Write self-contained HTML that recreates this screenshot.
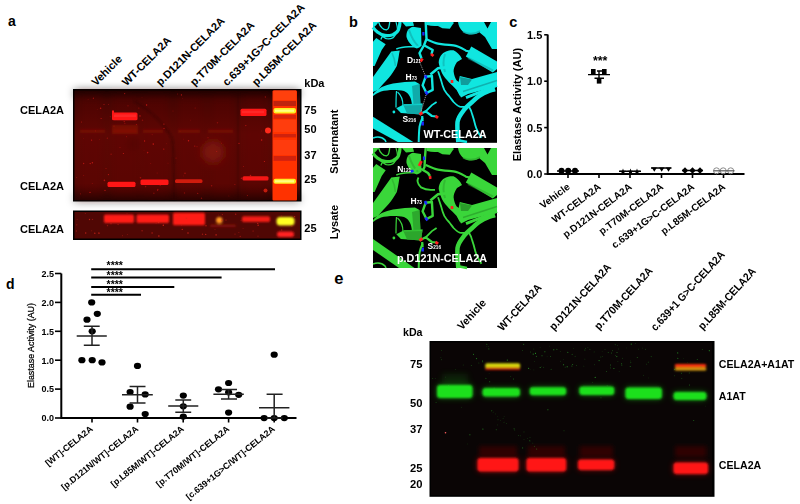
<!DOCTYPE html>
<html><head><meta charset="utf-8"><style>
html,body{margin:0;padding:0;background:#fff;width:800px;height:504px;overflow:hidden}
svg{display:block}
text{font-family:"Liberation Sans", Arial, Helvetica, sans-serif}
</style></head><body>
<svg width="800" height="504" viewBox="0 0 800 504">
<defs>
<linearGradient id="gA" x1="0" y1="0" x2="0" y2="1">
<stop offset="0" stop-color="#200200"/><stop offset="0.08" stop-color="#3e0502"/><stop offset="0.4" stop-color="#5a0804"/><stop offset="0.85" stop-color="#540703"/><stop offset="1" stop-color="#280301"/>
</linearGradient>
<linearGradient id="lad" x1="0" y1="0" x2="0" y2="1">
<stop offset="0" stop-color="#ff3010"/><stop offset="0.1" stop-color="#c01a08"/><stop offset="0.2" stop-color="#ff5010"/><stop offset="0.45" stop-color="#ff3010"/><stop offset="0.7" stop-color="#ff3a10"/><stop offset="1" stop-color="#ff2010"/>
</linearGradient>
<filter id="b06" x="-20%" y="-50%" width="140%" height="200%"><feGaussianBlur stdDeviation="0.6"/></filter>
<filter id="b04" x="-20%" y="-50%" width="140%" height="200%"><feGaussianBlur stdDeviation="0.4"/></filter>
<filter id="b4" x="-30%" y="-30%" width="160%" height="160%"><feGaussianBlur stdDeviation="4"/></filter>
<filter id="b3" x="-30%" y="-80%" width="160%" height="260%"><feGaussianBlur stdDeviation="3"/></filter>
<filter id="b1" x="-20%" y="-50%" width="140%" height="200%"><feGaussianBlur stdDeviation="1"/></filter>
<filter id="b07" x="-20%" y="-50%" width="140%" height="200%"><feGaussianBlur stdDeviation="0.7"/></filter>
<filter id="b2" x="-20%" y="-50%" width="140%" height="200%"><feGaussianBlur stdDeviation="2"/></filter>
</defs>
<text x="8" y="26" font-size="14" font-weight="bold" text-anchor="start" fill="#000" >a</text>
<text x="349" y="26.5" font-size="14.5" font-weight="bold" text-anchor="start" fill="#000" >b</text>
<text x="509.2" y="26.5" font-size="14.5" font-weight="bold" text-anchor="start" fill="#000" >c</text>
<text x="6" y="289" font-size="14" font-weight="bold" text-anchor="start" fill="#000" >d</text>
<text x="334.3" y="284.4" font-size="16.5" font-weight="bold" text-anchor="start" fill="#000" >e</text>
<text transform="translate(96.0 86.5) rotate(-45)" font-size="11" font-weight="bold" text-anchor="start" fill="#000" >Vehicle</text>
<text transform="translate(126.5 86.5) rotate(-45)" font-size="11" font-weight="bold" text-anchor="start" fill="#000" >WT-CELA2A</text>
<text transform="translate(160.5 86.5) rotate(-45)" font-size="11" font-weight="bold" text-anchor="start" fill="#000" >p.D121N-CELA2A</text>
<text transform="translate(194.5 86.5) rotate(-45)" font-size="11" font-weight="bold" text-anchor="start" fill="#000" >p.T70M-CELA2A</text>
<text transform="translate(227.0 86.5) rotate(-45)" font-size="11" font-weight="bold" text-anchor="start" fill="#000" >c.639+1G&gt;C-CELA2A</text>
<text transform="translate(256.5 86.5) rotate(-45)" font-size="11" font-weight="bold" text-anchor="start" fill="#000" >p.L85M-CELA2A</text>
<g id="gelA">
<rect x="73" y="89" width="228.5" height="112.5" fill="#000"/>
<rect x="74.5" y="90.5" width="225.5" height="109.5" fill="url(#gA)"/>
<g filter="url(#b4)">
<rect x="78" y="97" width="26" height="98" fill="#680a05" opacity="0.35"/>
<rect x="110" y="97" width="29" height="98" fill="#680a05" opacity="0.35"/>
<rect x="141" y="97" width="29" height="98" fill="#680a05" opacity="0.35"/>
<rect x="176" y="97" width="29" height="98" fill="#680a05" opacity="0.35"/>
<rect x="209" y="97" width="27" height="98" fill="#680a05" opacity="0.35"/>
<rect x="241" y="97" width="27" height="98" fill="#680a05" opacity="0.35"/>
<ellipse cx="213" cy="152" rx="11" ry="11" fill="#8a1a10" opacity="0.7"/>
<rect x="74.5" y="90.5" width="225" height="5" fill="#1a0200" opacity="0.8"/>
<rect x="74.5" y="196" width="225" height="5" fill="#1a0200" opacity="0.6"/>
<circle cx="133" cy="144" r="3" fill="#2a0402" opacity="0.8"/>
</g>
<g filter="url(#b1)">
<path d="M134 101 C150 110 165 125 172 138 C174 150 174 175 174 200" fill="none" stroke="#2a0402" stroke-width="2" opacity="0.45"/>
<path d="M238 92 V200" fill="none" stroke="#2a0402" stroke-width="2" opacity="0.35"/>
<rect x="80" y="129.5" width="25" height="3.2" fill="#861008" opacity="0.6"/>
<rect x="113" y="129.5" width="24" height="3.2" fill="#861008" opacity="0.6"/>
<rect x="143" y="129.5" width="20" height="3.2" fill="#861008" opacity="0.6"/>
<rect x="178" y="129.5" width="22" height="3.2" fill="#861008" opacity="0.6"/>
<rect x="208" y="129.5" width="25" height="3.2" fill="#861008" opacity="0.6"/>
<rect x="112" y="125" width="26" height="9" fill="#901208" opacity="0.5"/>
</g>
<g filter="url(#b06)">
<rect x="112" y="112.6" width="25.5" height="7.6" rx="1.5" fill="#ff1818"/>
<rect x="107.5" y="181.8" width="28" height="5.2" rx="1.5" fill="#ff1616"/>
<rect x="140.5" y="179.6" width="28" height="5.4" rx="1.5" fill="#ff1616"/>
<rect x="175" y="179.2" width="27.5" height="3.9" rx="1.5" fill="#d01a10"/>
<rect x="240.5" y="108.8" width="26" height="7.2" rx="1.5" fill="#ff1818"/>
<rect x="242.5" y="176.2" width="26" height="4.4" rx="1.5" fill="#f41814"/>
<rect x="112" y="110.5" width="2" height="5" fill="#ff1818"/>
<circle cx="268" cy="130.5" r="3" fill="#ff2a1a"/>
<circle cx="265.5" cy="190.5" r="2" fill="#c01a10"/>
</g>
<g filter="url(#b07)">
<rect x="272.5" y="90.5" width="24.5" height="110" rx="1" fill="#ff3006"/>
<rect x="273.5" y="101" width="22.5" height="5" fill="#c02008"/>
<rect x="273.5" y="115" width="22.5" height="3.700000000000003" fill="#d82408"/>
<rect x="273.5" y="134" width="22.5" height="3.4000000000000057" fill="#d02208"/>
<rect x="273.5" y="156" width="22.5" height="4.800000000000011" fill="#d02208"/>
<rect x="273.5" y="90.5" width="22.5" height="9.5" fill="#ff4010"/>
<rect x="273.5" y="120" width="22.5" height="12" fill="#ff3c0c"/>
<rect x="273.5" y="140" width="22.5" height="15" fill="#ff3a0c"/>
<rect x="273.5" y="108" width="22.5" height="5.5" rx="2" fill="#ffee20"/>
<rect x="273.5" y="178.8" width="22.5" height="5" rx="2" fill="#ffee20"/>
</g>
<g filter="url(#b04)">
<rect x="275" y="109.6" width="19" height="2.2" fill="#ffff80"/>
<rect x="275" y="180.2" width="19" height="2.2" fill="#ffff80"/>
<rect x="114" y="114.5" width="22" height="2.5" fill="#ff3a3a" opacity="0.5"/>
<rect x="242" y="110.8" width="22" height="2.3" fill="#ff3a3a" opacity="0.5"/>
</g>
<circle cx="138.8" cy="108.1" r="0.66" fill="#e8201a" opacity="0.33"/>
<circle cx="180.0" cy="131.1" r="0.42" fill="#e8201a" opacity="0.53"/>
<circle cx="83.3" cy="138.4" r="0.43" fill="#e8201a" opacity="0.34"/>
<circle cx="158.4" cy="180.5" r="0.45" fill="#e8201a" opacity="0.40"/>
<circle cx="197.7" cy="193.4" r="0.63" fill="#e8201a" opacity="0.48"/>
<circle cx="265.4" cy="97.0" r="0.74" fill="#e8201a" opacity="0.43"/>
<circle cx="104.0" cy="104.6" r="0.52" fill="#e8201a" opacity="0.67"/>
<circle cx="111.1" cy="154.2" r="0.66" fill="#e8201a" opacity="0.47"/>
<circle cx="182.3" cy="98.7" r="0.42" fill="#e8201a" opacity="0.39"/>
<circle cx="208.0" cy="137.8" r="0.53" fill="#e8201a" opacity="0.56"/>
<circle cx="163.9" cy="124.1" r="0.72" fill="#e8201a" opacity="0.61"/>
<circle cx="123.4" cy="153.5" r="0.61" fill="#e8201a" opacity="0.69"/>
<circle cx="217.5" cy="122.8" r="0.79" fill="#e8201a" opacity="0.35"/>
<circle cx="157.1" cy="173.0" r="0.46" fill="#e8201a" opacity="0.52"/>
<circle cx="83.6" cy="163.5" r="0.71" fill="#e8201a" opacity="0.56"/>
<circle cx="245.8" cy="125.6" r="0.68" fill="#e8201a" opacity="0.57"/>
<circle cx="188.5" cy="140.8" r="0.74" fill="#e8201a" opacity="0.73"/>
<circle cx="168.0" cy="163.1" r="0.42" fill="#e8201a" opacity="0.62"/>
<circle cx="201.5" cy="198.3" r="0.73" fill="#e8201a" opacity="0.43"/>
<circle cx="150.8" cy="163.5" r="0.41" fill="#e8201a" opacity="0.51"/>
<circle cx="108.6" cy="104.5" r="0.42" fill="#e8201a" opacity="0.65"/>
<circle cx="101.1" cy="118.5" r="0.56" fill="#e8201a" opacity="0.69"/>
<circle cx="91.6" cy="140.1" r="0.62" fill="#e8201a" opacity="0.70"/>
<circle cx="234.9" cy="184.4" r="0.51" fill="#e8201a" opacity="0.49"/>
<circle cx="145.6" cy="186.6" r="0.78" fill="#e8201a" opacity="0.37"/>
<circle cx="110.2" cy="116.8" r="0.49" fill="#e8201a" opacity="0.52"/>
<circle cx="190.3" cy="120.1" r="0.40" fill="#e8201a" opacity="0.49"/>
<circle cx="147.6" cy="152.6" r="0.78" fill="#e8201a" opacity="0.61"/>
<circle cx="176.0" cy="158.1" r="0.67" fill="#e8201a" opacity="0.32"/>
<circle cx="250.5" cy="175.5" r="0.75" fill="#e8201a" opacity="0.66"/>
<circle cx="152.1" cy="134.7" r="0.44" fill="#e8201a" opacity="0.59"/>
<circle cx="88.1" cy="99.2" r="0.48" fill="#e8201a" opacity="0.37"/>
<circle cx="142.0" cy="97.6" r="0.40" fill="#e8201a" opacity="0.37"/>
<circle cx="95.7" cy="130.9" r="0.41" fill="#e8201a" opacity="0.69"/>
<circle cx="195.1" cy="107.9" r="0.50" fill="#e8201a" opacity="0.46"/>
<circle cx="146.6" cy="105.1" r="0.74" fill="#e8201a" opacity="0.75"/>
<circle cx="166.4" cy="143.8" r="0.43" fill="#e8201a" opacity="0.35"/>
<circle cx="142.5" cy="120.3" r="0.73" fill="#e8201a" opacity="0.37"/>
<circle cx="80.5" cy="193.8" r="0.61" fill="#e8201a" opacity="0.37"/>
<circle cx="181.4" cy="94.9" r="0.61" fill="#e8201a" opacity="0.74"/>
<circle cx="243.5" cy="166.5" r="0.50" fill="#e8201a" opacity="0.47"/>
<circle cx="108.4" cy="174.6" r="0.61" fill="#e8201a" opacity="0.65"/>
<circle cx="140.0" cy="115.9" r="0.72" fill="#e8201a" opacity="0.74"/>
<circle cx="241.4" cy="178.3" r="0.73" fill="#e8201a" opacity="0.63"/>
<circle cx="120.0" cy="147.4" r="0.54" fill="#e8201a" opacity="0.31"/>
<circle cx="81.4" cy="121.9" r="0.50" fill="#e8201a" opacity="0.61"/>
<circle cx="261.6" cy="139.9" r="0.77" fill="#e8201a" opacity="0.74"/>
<circle cx="261.3" cy="131.0" r="0.49" fill="#e8201a" opacity="0.40"/>
<circle cx="114.2" cy="113.9" r="0.65" fill="#e8201a" opacity="0.71"/>
<circle cx="239.0" cy="143.3" r="0.66" fill="#e8201a" opacity="0.66"/>
<circle cx="92.4" cy="162.7" r="0.76" fill="#e8201a" opacity="0.65"/>
<circle cx="221.5" cy="143.1" r="0.47" fill="#e8201a" opacity="0.66"/>
<circle cx="140.5" cy="177.7" r="0.79" fill="#e8201a" opacity="0.48"/>
<circle cx="153.9" cy="193.3" r="0.69" fill="#e8201a" opacity="0.38"/>
<circle cx="100.6" cy="108.2" r="0.76" fill="#e8201a" opacity="0.66"/>
<circle cx="104.4" cy="180.4" r="0.79" fill="#e8201a" opacity="0.60"/>
<circle cx="144.0" cy="150.7" r="0.45" fill="#e8201a" opacity="0.31"/>
<circle cx="264.4" cy="161.5" r="0.61" fill="#e8201a" opacity="0.72"/>
<circle cx="160.2" cy="185.3" r="0.73" fill="#e8201a" opacity="0.39"/>
<circle cx="124.9" cy="123.3" r="0.50" fill="#e8201a" opacity="0.56"/>
<circle cx="126.3" cy="136.8" r="0.45" fill="#e8201a" opacity="0.71"/>
<circle cx="144.6" cy="141.0" r="0.63" fill="#e8201a" opacity="0.71"/>
<circle cx="157.6" cy="190.2" r="0.60" fill="#e8201a" opacity="0.54"/>
<circle cx="177.6" cy="94.0" r="0.58" fill="#e8201a" opacity="0.38"/>
<circle cx="76.8" cy="177.5" r="0.47" fill="#e8201a" opacity="0.51"/>
<circle cx="216.7" cy="151.5" r="0.53" fill="#e8201a" opacity="0.53"/>
<circle cx="183.8" cy="175.9" r="0.44" fill="#e8201a" opacity="0.55"/>
<circle cx="124.2" cy="121.6" r="0.71" fill="#e8201a" opacity="0.53"/>
<circle cx="185.0" cy="173.3" r="0.76" fill="#e8201a" opacity="0.50"/>
<circle cx="194.8" cy="146.1" r="0.60" fill="#e8201a" opacity="0.61"/>
<circle cx="163.8" cy="149.1" r="0.59" fill="#e8201a" opacity="0.72"/>
<circle cx="211.6" cy="185.8" r="0.78" fill="#e8201a" opacity="0.42"/>
<circle cx="184.5" cy="192.9" r="0.74" fill="#e8201a" opacity="0.36"/>
<circle cx="99.6" cy="139.3" r="0.43" fill="#e8201a" opacity="0.41"/>
<circle cx="90.2" cy="163.6" r="0.71" fill="#e8201a" opacity="0.70"/>
<circle cx="106.0" cy="168.6" r="0.66" fill="#e8201a" opacity="0.36"/>
<circle cx="247.3" cy="195.5" r="0.49" fill="#e8201a" opacity="0.73"/>
<circle cx="153.3" cy="144.1" r="0.80" fill="#e8201a" opacity="0.67"/>
<circle cx="107.3" cy="138.2" r="0.61" fill="#e8201a" opacity="0.45"/>
<circle cx="114.0" cy="126.1" r="0.69" fill="#e8201a" opacity="0.31"/>
<circle cx="183.5" cy="139.1" r="0.41" fill="#e8201a" opacity="0.45"/>
<circle cx="197.0" cy="146.8" r="0.43" fill="#e8201a" opacity="0.74"/>
<circle cx="228.9" cy="196.0" r="0.44" fill="#e8201a" opacity="0.42"/>
<circle cx="83.7" cy="175.4" r="0.51" fill="#e8201a" opacity="0.36"/>
<circle cx="157.9" cy="189.5" r="0.73" fill="#e8201a" opacity="0.42"/>
<circle cx="105.0" cy="190.4" r="0.63" fill="#e8201a" opacity="0.62"/>
<circle cx="93.4" cy="98.2" r="0.68" fill="#e8201a" opacity="0.49"/>
<circle cx="90.0" cy="192.4" r="0.65" fill="#e8201a" opacity="0.66"/>
<circle cx="92.2" cy="183.6" r="0.43" fill="#e8201a" opacity="0.69"/>
<circle cx="164.0" cy="128.3" r="0.62" fill="#e8201a" opacity="0.72"/>
<circle cx="128.0" cy="105.8" r="0.61" fill="#e8201a" opacity="0.41"/>
<circle cx="97.2" cy="109.3" r="0.42" fill="#e8201a" opacity="0.39"/>
<circle cx="136.5" cy="124.6" r="0.70" fill="#e8201a" opacity="0.43"/>
<circle cx="173.0" cy="111.0" r="0.54" fill="#e8201a" opacity="0.31"/>
<circle cx="124.6" cy="93.6" r="0.69" fill="#e8201a" opacity="0.55"/>
</g>
<rect x="73" y="210.5" width="228.5" height="29.5" fill="#000"/>
<rect x="74.5" y="212" width="225.5" height="26.5" fill="#500704"/>
<g filter="url(#b1)">
<rect x="104" y="214.6" width="30" height="8.4" rx="1.5" fill="#ff1a14"/>
<rect x="136.5" y="214.6" width="32.5" height="8.4" rx="1.5" fill="#ff1a14"/>
<rect x="173" y="212.8" width="32" height="12.5" rx="1.5" fill="#ff1a14"/>
<rect x="242" y="216.2" width="28" height="5.8" rx="1.5" fill="#f41a14"/>
<rect x="210" y="224.5" width="26" height="2.5" rx="1.5" fill="#801008"/>
<circle cx="219.3" cy="220.2" r="3.2" fill="#ff9a20"/>
<rect x="276.5" y="217" width="18" height="8.5" rx="3.5" fill="#ffff20"/>
<rect x="277" y="231.5" width="17" height="5.5" rx="2.5" fill="#ff2020"/>
</g>
<circle cx="118.1" cy="224.4" r="0.77" fill="#e0281a" opacity="0.36"/>
<circle cx="257.8" cy="223.4" r="0.60" fill="#e0281a" opacity="0.80"/>
<circle cx="163.3" cy="225.2" r="0.68" fill="#e0281a" opacity="0.89"/>
<circle cx="152.1" cy="233.0" r="0.68" fill="#e0281a" opacity="0.68"/>
<circle cx="165.8" cy="221.3" r="0.42" fill="#e0281a" opacity="0.38"/>
<circle cx="91.7" cy="230.8" r="0.50" fill="#e0281a" opacity="0.40"/>
<circle cx="94.8" cy="233.2" r="0.75" fill="#e0281a" opacity="0.70"/>
<circle cx="138.6" cy="218.8" r="0.52" fill="#e0281a" opacity="0.58"/>
<circle cx="111.0" cy="223.7" r="0.51" fill="#e0281a" opacity="0.88"/>
<circle cx="291.9" cy="226.1" r="0.50" fill="#e0281a" opacity="0.88"/>
<circle cx="144.7" cy="221.6" r="0.40" fill="#e0281a" opacity="0.53"/>
<circle cx="181.4" cy="225.1" r="0.48" fill="#e0281a" opacity="0.60"/>
<circle cx="77.1" cy="219.3" r="0.44" fill="#e0281a" opacity="0.54"/>
<circle cx="85.3" cy="213.5" r="0.52" fill="#e0281a" opacity="0.44"/>
<circle cx="206.0" cy="225.7" r="0.70" fill="#e0281a" opacity="0.69"/>
<circle cx="235.0" cy="234.1" r="0.56" fill="#e0281a" opacity="0.50"/>
<circle cx="294.6" cy="216.6" r="0.69" fill="#e0281a" opacity="0.69"/>
<circle cx="85.7" cy="233.0" r="0.76" fill="#e0281a" opacity="0.68"/>
<circle cx="238.9" cy="232.5" r="0.46" fill="#e0281a" opacity="0.61"/>
<circle cx="188.0" cy="233.0" r="0.72" fill="#e0281a" opacity="0.80"/>
<circle cx="205.7" cy="234.4" r="0.67" fill="#e0281a" opacity="0.72"/>
<circle cx="127.0" cy="213.7" r="0.45" fill="#e0281a" opacity="0.52"/>
<circle cx="99.3" cy="233.1" r="0.62" fill="#e0281a" opacity="0.68"/>
<circle cx="215.0" cy="229.3" r="0.60" fill="#e0281a" opacity="0.30"/>
<circle cx="253.1" cy="231.0" r="0.60" fill="#e0281a" opacity="0.62"/>
<circle cx="222.4" cy="214.6" r="0.69" fill="#e0281a" opacity="0.45"/>
<circle cx="92.5" cy="219.4" r="0.69" fill="#e0281a" opacity="0.42"/>
<circle cx="240.2" cy="236.4" r="0.60" fill="#e0281a" opacity="0.53"/>
<circle cx="182.3" cy="229.4" r="0.71" fill="#e0281a" opacity="0.67"/>
<circle cx="218.7" cy="214.9" r="0.46" fill="#e0281a" opacity="0.45"/>
<circle cx="241.0" cy="220.3" r="0.63" fill="#e0281a" opacity="0.31"/>
<circle cx="89.5" cy="219.5" r="0.67" fill="#e0281a" opacity="0.72"/>
<circle cx="226.0" cy="220.0" r="0.61" fill="#e0281a" opacity="0.58"/>
<circle cx="179.5" cy="215.8" r="0.76" fill="#e0281a" opacity="0.42"/>
<circle cx="293.1" cy="235.5" r="0.41" fill="#e0281a" opacity="0.58"/>
<circle cx="258.0" cy="236.2" r="0.58" fill="#e0281a" opacity="0.46"/>
<circle cx="122.6" cy="235.7" r="0.48" fill="#e0281a" opacity="0.65"/>
<circle cx="107.5" cy="225.6" r="0.78" fill="#e0281a" opacity="0.38"/>
<circle cx="258.1" cy="225.2" r="0.75" fill="#e0281a" opacity="0.72"/>
<circle cx="127.4" cy="234.5" r="0.59" fill="#e0281a" opacity="0.31"/>
<circle cx="76.8" cy="224.8" r="0.58" fill="#e0281a" opacity="0.48"/>
<circle cx="107.2" cy="221.3" r="0.53" fill="#e0281a" opacity="0.80"/>
<circle cx="76.4" cy="231.0" r="0.74" fill="#e0281a" opacity="0.37"/>
<circle cx="281.7" cy="230.1" r="0.76" fill="#e0281a" opacity="0.47"/>
<circle cx="158.6" cy="222.4" r="0.80" fill="#e0281a" opacity="0.65"/>
<circle cx="156.1" cy="223.3" r="0.51" fill="#e0281a" opacity="0.33"/>
<circle cx="98.6" cy="233.0" r="0.51" fill="#e0281a" opacity="0.86"/>
<circle cx="131.4" cy="219.4" r="0.60" fill="#e0281a" opacity="0.41"/>
<circle cx="158.9" cy="235.9" r="0.75" fill="#e0281a" opacity="0.79"/>
<circle cx="216.1" cy="234.9" r="0.78" fill="#e0281a" opacity="0.63"/>
<circle cx="235.7" cy="214.2" r="0.69" fill="#e0281a" opacity="0.57"/>
<circle cx="243.1" cy="228.5" r="0.51" fill="#e0281a" opacity="0.33"/>
<circle cx="281.7" cy="216.1" r="0.59" fill="#e0281a" opacity="0.51"/>
<circle cx="142.1" cy="230.7" r="0.79" fill="#e0281a" opacity="0.46"/>
<circle cx="221.6" cy="220.2" r="0.62" fill="#e0281a" opacity="0.54"/>
<circle cx="113.1" cy="216.9" r="0.48" fill="#e0281a" opacity="0.84"/>
<circle cx="186.4" cy="218.3" r="0.76" fill="#e0281a" opacity="0.90"/>
<circle cx="175.9" cy="216.4" r="0.48" fill="#e0281a" opacity="0.35"/>
<circle cx="151.9" cy="215.2" r="0.50" fill="#e0281a" opacity="0.46"/>
<circle cx="202.5" cy="234.3" r="0.70" fill="#e0281a" opacity="0.55"/>
<text x="20" y="114.3" font-size="11" font-weight="bold" text-anchor="start" fill="#000" >CELA2A</text>
<text x="20" y="190.2" font-size="11" font-weight="bold" text-anchor="start" fill="#000" >CELA2A</text>
<text x="20" y="233.3" font-size="11" font-weight="bold" text-anchor="start" fill="#000" >CELA2A</text>
<text x="304.3" y="87" font-size="11" font-weight="bold" text-anchor="start" fill="#000" >kDa</text>
<text x="304.3" y="113.5" font-size="11" font-weight="bold" text-anchor="start" fill="#000" >75</text>
<text x="304.3" y="133.3" font-size="11" font-weight="bold" text-anchor="start" fill="#000" >50</text>
<text x="304.3" y="158.8" font-size="11" font-weight="bold" text-anchor="start" fill="#000" >37</text>
<text x="304.3" y="182.9" font-size="11" font-weight="bold" text-anchor="start" fill="#000" >25</text>
<text x="304.3" y="232" font-size="11" font-weight="bold" text-anchor="start" fill="#000" >25</text>
<text transform="translate(338 141.6) rotate(-90)" font-size="11" font-weight="bold" text-anchor="middle" fill="#000" >Supernatant</text>
<text transform="translate(338 222.1) rotate(-90)" font-size="11" font-weight="bold" text-anchor="middle" fill="#000" >Lysate</text>
<rect x="373" y="22" width="124" height="120.8" fill="#000"/>
<rect x="373" y="148" width="124" height="120" fill="#000"/>
<g id="protA" transform="translate(373 22)"><path d="M0 5.4 C1.5 7.5 3 9.2 4.8 10.3 C7 12 9.5 13.2 11.9 13.5 C14.5 13.8 17.5 13.5 19.8 12.7 C22.5 11.5 24.5 9.8 25.4 7.9 C26.5 5 26.9 2.5 27 0" fill="none" stroke="#10e6e0" stroke-width="3.3"/>
<path d="M5.6 0 C6.5 3 7.5 4.5 8.7 5.6 C10 7 12 7.9 13.5 7.9 C15 7.5 15.7 6 15.9 4.8 C16.3 3 16.6 1.5 16.7 0" fill="none" stroke="#10e6e0" stroke-width="1.3"/>
<path d="M23 0 C24 3 24.5 5 24.5 8" fill="none" stroke="#10e6e0" stroke-width="1.1"/>
<path d="M0 0 L5.5 0 C4 2.5 2.5 4 0 6 Z" fill="#10e6e0"/>
<path d="M0 19.8 L3.2 15.9 L12.7 22.2 L8.7 28 L1.6 43.9 L0 44 Z" fill="#10e6e0"/>
<path d="M7.9 17.5 C8.5 15.5 9 14.8 9.5 14.3 C11 15 12 16.3 13.5 16.7 C16 17 18 16.8 19.8 15.9 C21 15 22 13.5 23 11.9" fill="none" stroke="#10e6e0" stroke-width="1.3"/>
<path d="M18.3 29.6 L26.8 28.6 L26.2 31.2 C25.5 36 24.8 40 23.8 43.9 C21.5 48 19 52 15.9 55.8 C12 60 8 64.5 4.8 68 L0 70 L0 55 Z" fill="#10e6e0"/>
<path d="M19 31 C21 35 22 39 22.5 44" fill="none" stroke="#109c9c" stroke-width="1.6" opacity="0.5"/>
<path d="M33.5 15 C33 10 35 6 40 4.7 L48 6 L48.5 24 L44 26.4 C40 25.5 35.5 21 33.5 15 Z" fill="#10e6e0"/>
<path d="M29 0 L40 0 L41 3.7 L33 4.5 Z" fill="#10e6e0"/>
<path d="M36 8 C38 14 41 20 45 24" fill="none" stroke="#109c9c" stroke-width="2" opacity="0.5"/>
<path d="M23.3 27 C27 25.5 31 25 35.7 24.8 C40 24.6 43 24.6 46.5 24.8" fill="none" stroke="#10e6e0" stroke-width="1.6"/>
<path d="M52.7 0 L53.5 17 L51 23.3" fill="none" stroke="#10e6e0" stroke-width="2.4" stroke-linejoin="round"/>
<path d="M51 23.3 L59.7 28 L58.5 32" fill="none" stroke="#10e6e0" stroke-width="2.4" stroke-linejoin="round"/>
<path d="M51 23.3 L46.5 31 L48.5 36.5" fill="none" stroke="#10e6e0" stroke-width="2.4" stroke-linejoin="round"/>
<path d="M50.4 10 V13.5" stroke="#1a2aff" stroke-width="2.2"/>
<path d="M58 32 L60.5 34" stroke="#ff2020" stroke-width="2.8"/>
<path d="M49.5 36.5 L47.5 39.5" stroke="#ff2020" stroke-width="2.8"/>
<path d="M52.7 17 C57 19 61 21 65 21.7 C70 22.6 75 23 80.6 23.3 C86 24 90 27 93 28.7 C95 29.3 97 29.5 99.2 29.5" fill="none" stroke="#10e6e0" stroke-width="2.2"/>
<path d="M54 0 L68 0 L67 3.5 C62 4.5 58 4 54 3 Z" fill="#10e6e0"/>
<path d="M62 0 L80.5 0 L80.5 1.2 L76.8 6.8 L69.4 6.2 L62 2.5 Z" fill="#10e6e0"/>
<path d="M85 0 L107 0 L107.5 9 C104 13 98 13 94 12 C89 10 86 6 85 0 Z" fill="#10e6e0"/>
<path d="M95 0 L111 0 L114.5 6.5 L118 0 L124 0 L124 27 L119 27 L112 15 L106 10 L100 6 Z" fill="#10e6e0"/>
<path d="M90 10 C95 12 102 12 107 9" fill="none" stroke="#109c9c" stroke-width="1.5" opacity="0.6"/>
<path d="M65.7 40.6 C66 35 69 31 73 29.5 C76 28 79 28 80.5 28.3 C84 30 87 33 89 36.9 L84 40 C81.5 44 80.5 47 80.6 49.3 C81 53 82 56 83.7 58.6 L88.4 61.7 L86.8 74 C85 70 84 68 82.2 66.4 C79 63 76 61 74.4 58.6 C71 55 69 52 68.2 49.3 C67 46 66 43 65.7 40.6 Z" fill="#10e6e0"/>
<path d="M72 32 C70 38 70 44 72 50" fill="none" stroke="#109c9c" stroke-width="2" opacity="0.45"/>
<path d="M79 58 V61" stroke="#ff2020" stroke-width="2.6"/>
<path d="M57.4 52.4 L65 46.2 L72.9 45.4" fill="none" stroke="#10e6e0" stroke-width="2.6" stroke-linejoin="round"/>
<path d="M92.8 34.4 L98.3 24.6 L124 39.4 L124 47 L119.8 50.4 Z" fill="#10e6e0"/>
<path d="M95 36 L120 48.5" stroke="#109c9c" stroke-width="2" opacity="0.5"/>
<path d="M86.8 54 L99 57 L124 50 L124 64.5 L113.7 67 L95 72 L88 75.5 L84 68 Z" fill="#10e6e0"/>
<path d="M87 55 L99 57.5 L95 63 L88 63 Z" fill="#109c9c"/>
<path d="M90 69.5 L124 58.5" stroke="#109c9c" stroke-width="1.4" opacity="0.7"/>
<path d="M93 75.7 L124 63.3" stroke="#10e6e0" stroke-width="3"/>
<path d="M0 72 C5 66 12 63 20 61.5 C28 60 36 59.5 42 59.4 L46.5 62 L47.5 83 L39 83 C38.5 76 36 71 31 69 C24 67.5 15 67.5 8 69.5 C4 71 2 72.5 0 74 Z" fill="#10e6e0"/>
<path d="M39 64 L46.5 62 L47.5 83 L40.5 83 C40 76 39.5 69 39 64 Z" fill="#109c9c" opacity="0.8"/>
<path d="M23.5 69 C23 75 23 80 23 85.5" fill="none" stroke="#10e6e0" stroke-width="1.2"/>
<path d="M24.5 70 C28 73 30 78 30 84" fill="none" stroke="#10e6e0" stroke-width="1.2"/>
<path d="M23.3 86.2 L31 82.3 L49.6 81.6 L48 92.4 L27.9 90.9 Z" fill="#10e6e0"/>
<path d="M30 82.3 L49.6 81.6 L48 92.4 L34 91.4 Z" fill="#109c9c" opacity="0.85"/>
<path d="M31 83 L49 82.5" stroke="#10e6e0" stroke-width="1.2" opacity="0.7"/>
<circle cx="20.9" cy="90" r="1.4" fill="#10e6e0"/>
<path d="M0 94.7 L40.3 120 L24.8 120 L0 106.4 Z" fill="#10e6e0"/>
<path d="M0 116 C4 114.5 9 115 12 118 L13 120" fill="none" stroke="#10e6e0" stroke-width="1.6"/>
<path d="M52.7 54.7 L58.9 54 L59.7 67.9 L53.5 71 L49.6 63.3 Z" fill="none" stroke="#10e6e0" stroke-width="2.4" stroke-linejoin="round"/>
<path d="M52 53 L53.5 56.5" stroke="#1a2aff" stroke-width="2.6"/>
<path d="M52.5 69.5 L54.5 72.5" stroke="#1a2aff" stroke-width="2.6"/>
<path d="M47.3 41.6 L52.2 53.5" stroke="#cfcfcf" stroke-width="0.8" stroke-dasharray="1 1"/>
<path d="M53 73 L48 90" stroke="#cfcfcf" stroke-width="0.8" stroke-dasharray="1 1"/>
<path d="M65 49.3 C66 52 67 55 68.2 58.6 C69 62 70 65 71.3 67.9 C72.5 70 74 72 76 74 C78 76.5 79 78 80.6 80 C83 82.5 84.5 84 86.8 84.7 C90 85.2 93 84.6 96 84.7 C97.5 87 98.5 89.5 99.2 92.4 C100.5 96 101.5 100 102.3 103.3 C103.5 108 106 112 108.5 115.7" fill="none" stroke="#10e6e0" stroke-width="1.8"/>
<path d="M122 67 C119 68 117 68.5 114.9 69.4 C108 72 103 76 99.2 80 C95 83.5 92 86 90 89.3 C87 93 85 97 84.5 100 C84 106 84.7 113 85.3 120" fill="none" stroke="#10e6e0" stroke-width="4.5"/>
<path d="M46.5 92.4 L52.7 89.3 L58.9 94 L63 94.5" fill="none" stroke="#10e6e0" stroke-width="2.2" stroke-linejoin="round"/>
<path d="M52.7 89.3 L58.9 83.1 L63.6 80" fill="none" stroke="#10e6e0" stroke-width="1.8"/>
<path d="M49.2 94 L49.6 99" fill="none" stroke="#10e6e0" stroke-width="2.2"/>
<path d="M46.5 92.6 L49.5 90.6" stroke="#ff2020" stroke-width="3"/>
<path d="M62.5 93.8 L65 95.8" stroke="#ff2020" stroke-width="2.8"/>
<path d="M49.6 99.5 V103.5" stroke="#1a2aff" stroke-width="2.6"/>
<path d="M49.6 95.5 C48 99 47 102 46.5 104.8 C46 109 45.8 114 45.7 120" fill="none" stroke="#10e6e0" stroke-width="2"/>
<path d="M84 118 L94 120" stroke="#10e6e0" stroke-width="2.5"/></g>
<g transform="translate(373 148)"><path d="M0 5.4 C1.5 7.5 3 9.2 4.8 10.3 C7 12 9.5 13.2 11.9 13.5 C14.5 13.8 17.5 13.5 19.8 12.7 C22.5 11.5 24.5 9.8 25.4 7.9 C26.5 5 26.9 2.5 27 0" fill="none" stroke="#3ad63a" stroke-width="3.3"/>
<path d="M5.6 0 C6.5 3 7.5 4.5 8.7 5.6 C10 7 12 7.9 13.5 7.9 C15 7.5 15.7 6 15.9 4.8 C16.3 3 16.6 1.5 16.7 0" fill="none" stroke="#3ad63a" stroke-width="1.3"/>
<path d="M23 0 C24 3 24.5 5 24.5 8" fill="none" stroke="#3ad63a" stroke-width="1.1"/>
<path d="M0 0 L5.5 0 C4 2.5 2.5 4 0 6 Z" fill="#3ad63a"/>
<path d="M0 19.8 L3.2 15.9 L12.7 22.2 L8.7 28 L1.6 43.9 L0 44 Z" fill="#3ad63a"/>
<path d="M7.9 17.5 C8.5 15.5 9 14.8 9.5 14.3 C11 15 12 16.3 13.5 16.7 C16 17 18 16.8 19.8 15.9 C21 15 22 13.5 23 11.9" fill="none" stroke="#3ad63a" stroke-width="1.3"/>
<path d="M18.3 29.6 L26.8 28.6 L26.2 31.2 C25.5 36 24.8 40 23.8 43.9 C21.5 48 19 52 15.9 55.8 C12 60 8 64.5 4.8 68 L0 70 L0 55 Z" fill="#3ad63a"/>
<path d="M19 31 C21 35 22 39 22.5 44" fill="none" stroke="#2a9e2a" stroke-width="1.6" opacity="0.5"/>
<path d="M33.5 15 C33 10 35 6 40 4.7 L48 6 L48.5 24 L44 26.4 C40 25.5 35.5 21 33.5 15 Z" fill="#3ad63a"/>
<path d="M29 0 L40 0 L41 3.7 L33 4.5 Z" fill="#3ad63a"/>
<path d="M36 8 C38 14 41 20 45 24" fill="none" stroke="#2a9e2a" stroke-width="2" opacity="0.5"/>
<path d="M23.3 27 C27 25.5 31 25 35.7 24.8 C40 24.6 43 24.6 46.5 24.8" fill="none" stroke="#3ad63a" stroke-width="1.6"/>
<path d="M52.7 0 L52 9 L51.5 19 L50 22 L45 20 L40.5 23" fill="none" stroke="#3ad63a" stroke-width="2.4" stroke-linejoin="round"/>
<path d="M45 20 L47.5 15.5" fill="none" stroke="#3ad63a" stroke-width="2.4"/>
<path d="M50 22 L55 25 L57 28" fill="none" stroke="#3ad63a" stroke-width="2.4" stroke-linejoin="round"/>
<path d="M45.5 29.5 C44 32 44.5 36 48 39.4 C51 41 54 41.8 57.8 41.8 L62 41.8" fill="none" stroke="#3ad63a" stroke-width="1.8"/>
<path d="M51 8.5 V12" stroke="#1a2aff" stroke-width="2.2"/>
<path d="M37.5 23.8 L40.5 22.6" stroke="#1a2aff" stroke-width="2.6"/>
<path d="M46 17.8 L48.5 13.2" stroke="#ff2020" stroke-width="2.8"/>
<path d="M57 28 L57.3 31" stroke="#ff2020" stroke-width="2.6"/>
<path d="M52.7 17 C57 19 61 21 65 21.7 C70 22.6 75 23 80.6 23.3 C86 24 90 27 93 28.7 C95 29.3 97 29.5 99.2 29.5" fill="none" stroke="#3ad63a" stroke-width="2.2"/>
<path d="M54 0 L68 0 L67 3.5 C62 4.5 58 4 54 3 Z" fill="#3ad63a"/>
<path d="M62 0 L80.5 0 L80.5 1.2 L76.8 6.8 L69.4 6.2 L62 2.5 Z" fill="#3ad63a"/>
<path d="M85 0 L107 0 L107.5 9 C104 13 98 13 94 12 C89 10 86 6 85 0 Z" fill="#3ad63a"/>
<path d="M95 0 L111 0 L114.5 6.5 L118 0 L124 0 L124 27 L119 27 L112 15 L106 10 L100 6 Z" fill="#3ad63a"/>
<path d="M90 10 C95 12 102 12 107 9" fill="none" stroke="#2a9e2a" stroke-width="1.5" opacity="0.6"/>
<path d="M65.7 40.6 C66 35 69 31 73 29.5 C76 28 79 28 80.5 28.3 C84 30 87 33 89 36.9 L84 40 C81.5 44 80.5 47 80.6 49.3 C81 53 82 56 83.7 58.6 L88.4 61.7 L86.8 74 C85 70 84 68 82.2 66.4 C79 63 76 61 74.4 58.6 C71 55 69 52 68.2 49.3 C67 46 66 43 65.7 40.6 Z" fill="#3ad63a"/>
<path d="M72 32 C70 38 70 44 72 50" fill="none" stroke="#2a9e2a" stroke-width="2" opacity="0.45"/>
<path d="M79 58 V61" stroke="#ff2020" stroke-width="2.6"/>
<path d="M57.4 52.4 L65 46.2 L72.9 45.4" fill="none" stroke="#3ad63a" stroke-width="2.6" stroke-linejoin="round"/>
<path d="M92.8 34.4 L98.3 24.6 L124 39.4 L124 47 L119.8 50.4 Z" fill="#3ad63a"/>
<path d="M95 36 L120 48.5" stroke="#2a9e2a" stroke-width="2" opacity="0.5"/>
<path d="M86.8 54 L99 57 L124 50 L124 64.5 L113.7 67 L95 72 L88 75.5 L84 68 Z" fill="#3ad63a"/>
<path d="M87 55 L99 57.5 L95 63 L88 63 Z" fill="#2a9e2a"/>
<path d="M90 69.5 L124 58.5" stroke="#2a9e2a" stroke-width="1.4" opacity="0.7"/>
<path d="M93 75.7 L124 63.3" stroke="#3ad63a" stroke-width="3"/>
<path d="M0 72 C5 66 12 63 20 61.5 C28 60 36 59.5 42 59.4 L46.5 62 L47.5 83 L39 83 C38.5 76 36 71 31 69 C24 67.5 15 67.5 8 69.5 C4 71 2 72.5 0 74 Z" fill="#3ad63a"/>
<path d="M39 64 L46.5 62 L47.5 83 L40.5 83 C40 76 39.5 69 39 64 Z" fill="#2a9e2a" opacity="0.8"/>
<path d="M23.5 69 C23 75 23 80 23 85.5" fill="none" stroke="#3ad63a" stroke-width="1.2"/>
<path d="M24.5 70 C28 73 30 78 30 84" fill="none" stroke="#3ad63a" stroke-width="1.2"/>
<path d="M23.3 86.2 L31 82.3 L49.6 81.6 L48 92.4 L27.9 90.9 Z" fill="#3ad63a"/>
<path d="M30 82.3 L49.6 81.6 L48 92.4 L34 91.4 Z" fill="#2a9e2a" opacity="0.85"/>
<path d="M31 83 L49 82.5" stroke="#3ad63a" stroke-width="1.2" opacity="0.7"/>
<circle cx="20.9" cy="90" r="1.4" fill="#3ad63a"/>
<path d="M0 91 L41.5 120 L26 120 L0 102 Z" fill="#3ad63a"/>
<path d="M0 116 C4 114.5 9 115 12 118 L13 120" fill="none" stroke="#3ad63a" stroke-width="1.6"/>
<path d="M52.7 54.7 L58.9 54 L59.7 67.9 L53.5 71 L49.6 63.3 Z" fill="none" stroke="#3ad63a" stroke-width="2.4" stroke-linejoin="round"/>
<path d="M52 53 L53.5 56.5" stroke="#1a2aff" stroke-width="2.6"/>
<path d="M52.5 69.5 L54.5 72.5" stroke="#1a2aff" stroke-width="2.6"/>
<path d="M65 49.3 C66 52 67 55 68.2 58.6 C69 62 70 65 71.3 67.9 C72.5 70 74 72 76 74 C78 76.5 79 78 80.6 80 C83 82.5 84.5 84 86.8 84.7 C90 85.2 93 84.6 96 84.7 C97.5 87 98.5 89.5 99.2 92.4 C100.5 96 101.5 100 102.3 103.3 C103.5 108 106 112 108.5 115.7" fill="none" stroke="#3ad63a" stroke-width="1.8"/>
<path d="M122 67 C119 68 117 68.5 114.9 69.4 C108 72 103 76 99.2 80 C95 83.5 92 86 90 89.3 C87 93 85 97 84.5 100 C84 106 84.7 113 85.3 120" fill="none" stroke="#3ad63a" stroke-width="4.5"/>
<path d="M46.5 92.4 L52.7 89.3 L58.9 94 L63 94.5" fill="none" stroke="#3ad63a" stroke-width="2.2" stroke-linejoin="round"/>
<path d="M52.7 89.3 L58.9 83.1 L63.6 80" fill="none" stroke="#3ad63a" stroke-width="1.8"/>
<path d="M49.2 94 L49.6 99" fill="none" stroke="#3ad63a" stroke-width="2.2"/>
<path d="M46.5 92.6 L49.5 90.6" stroke="#ff2020" stroke-width="3"/>
<path d="M62.5 93.8 L65 95.8" stroke="#ff2020" stroke-width="2.8"/>
<path d="M49.6 99.5 V103.5" stroke="#1a2aff" stroke-width="2.6"/>
<path d="M49.6 95.5 C48 99 47 102 46.5 104.8 C46 109 45.8 114 45.7 120" fill="none" stroke="#3ad63a" stroke-width="2"/>
<path d="M84 118 L94 120" stroke="#3ad63a" stroke-width="2.5"/></g>
<text x="423.5" y="137.8" font-size="10.8" font-weight="bold" text-anchor="start" fill="#fff" >WT-CELA2A</text>
<text x="397" y="262" font-size="10.8" font-weight="bold" text-anchor="start" fill="#fff" >p.D121N-CELA2A</text>
<g stroke="#000" fill="none">
<path d="M547.7 34.6 V174 H744.5" stroke-width="2"/>
<path d="M544.2 174.0 H547.7" stroke-width="1.6"/>
<path d="M544.2 127.6 H547.7" stroke-width="1.6"/>
<path d="M544.2 81.2 H547.7" stroke-width="1.6"/>
<path d="M544.2 34.8 H547.7" stroke-width="1.6"/>
<path d="M568 174 V178" stroke-width="1.6"/>
<path d="M599 174 V178" stroke-width="1.6"/>
<path d="M630 174 V178" stroke-width="1.6"/>
<path d="M661.5 174 V178" stroke-width="1.6"/>
<path d="M692.5 174 V178" stroke-width="1.6"/>
<path d="M723.5 174 V178" stroke-width="1.6"/>
</g>
<text x="542.3" y="178.0" font-size="11" font-weight="bold" text-anchor="end" fill="#000" >0.0</text>
<text x="542.3" y="131.6" font-size="11" font-weight="bold" text-anchor="end" fill="#000" >0.5</text>
<text x="542.3" y="85.2" font-size="11" font-weight="bold" text-anchor="end" fill="#000" >1.0</text>
<text x="542.3" y="38.80000000000001" font-size="11" font-weight="bold" text-anchor="end" fill="#000" >1.5</text>
<text transform="translate(520.6 104.6) rotate(-90)" font-size="11" font-weight="bold" text-anchor="middle" fill="#000" >Elastase Activity (AU)</text>
<text transform="translate(570.6 188.2) rotate(-37)" font-size="10" font-weight="bold" text-anchor="end" fill="#000" >Vehicle</text>
<text transform="translate(601.6 188.2) rotate(-37)" font-size="10" font-weight="bold" text-anchor="end" fill="#000" >WT-CELA2A</text>
<text transform="translate(632.6 188.2) rotate(-37)" font-size="10" font-weight="bold" text-anchor="end" fill="#000" >p.D121N-CELA2A</text>
<text transform="translate(664.1 188.2) rotate(-37)" font-size="10" font-weight="bold" text-anchor="end" fill="#000" >p.T70M-CELA2A</text>
<text transform="translate(695.1 188.2) rotate(-37)" font-size="10" font-weight="bold" text-anchor="end" fill="#000" >c.639+1G&gt;C-CELA2A</text>
<text transform="translate(726.1 188.2) rotate(-37)" font-size="10" font-weight="bold" text-anchor="end" fill="#000" >p.L85M-CELA2A</text>
<text x="600.2" y="64.5" font-size="12.5" font-weight="bold" text-anchor="middle" fill="#000" >***</text>
<g stroke="#000" fill="none">
<path d="M61.3 273.5 V418 H296.5" stroke-width="2"/>
<path d="M55 418.0 H61.3" stroke-width="1.6"/>
<path d="M55 389.1 H61.3" stroke-width="1.6"/>
<path d="M55 360.2 H61.3" stroke-width="1.6"/>
<path d="M55 331.3 H61.3" stroke-width="1.6"/>
<path d="M55 302.4 H61.3" stroke-width="1.6"/>
<path d="M55 273.5 H61.3" stroke-width="1.6"/>
<path d="M92 418 V422.5" stroke-width="1.6"/>
<path d="M137.5 418 V422.5" stroke-width="1.6"/>
<path d="M183.2 418 V422.5" stroke-width="1.6"/>
<path d="M228.6 418 V422.5" stroke-width="1.6"/>
<path d="M274.2 418 V422.5" stroke-width="1.6"/>
</g>
<text x="54" y="421.3" font-size="9" font-weight="bold" text-anchor="end" fill="#000" >0.0</text>
<text x="54" y="392.40000000000003" font-size="9" font-weight="bold" text-anchor="end" fill="#000" >0.5</text>
<text x="54" y="363.5" font-size="9" font-weight="bold" text-anchor="end" fill="#000" >1.0</text>
<text x="54" y="334.6" font-size="9" font-weight="bold" text-anchor="end" fill="#000" >1.5</text>
<text x="54" y="305.7" font-size="9" font-weight="bold" text-anchor="end" fill="#000" >2.0</text>
<text x="54" y="276.8" font-size="9" font-weight="bold" text-anchor="end" fill="#000" >2.5</text>
<text transform="translate(34.3 345.5) rotate(-90)" font-size="9.2" font-weight="normal" text-anchor="middle" fill="#000" textLength="85" lengthAdjust="spacingAndGlyphs" stroke="#000" stroke-width="0.25">Elastase Activity (AU)</text>
<text transform="translate(93.4 430) rotate(-39)" font-size="8.9" font-weight="bold" text-anchor="end" fill="#000" >[WT]-CELA2A</text>
<text transform="translate(138.9 430) rotate(-39)" font-size="8.9" font-weight="bold" text-anchor="end" fill="#000" >[p.D121N/WT]-CELA2A</text>
<text transform="translate(184.6 430) rotate(-39)" font-size="8.9" font-weight="bold" text-anchor="end" fill="#000" >[p.L85M/WT]-CELA2A</text>
<text transform="translate(230.0 430) rotate(-39)" font-size="8.9" font-weight="bold" text-anchor="end" fill="#000" >[p.T70M/WT]-CELA2A</text>
<text transform="translate(275.59999999999997 430) rotate(-39)" font-size="8.9" font-weight="bold" text-anchor="end" fill="#000" >[c.639+1G&gt;C/WT]-CELA2A</text>
<text transform="translate(462 330.5) rotate(-47.5)" font-size="11" font-weight="bold" text-anchor="start" fill="#000" textLength="36.8" lengthAdjust="spacingAndGlyphs">Vehicle</text>
<text transform="translate(502.5 331.5) rotate(-47.5)" font-size="11" font-weight="bold" text-anchor="start" fill="#000" textLength="58.7" lengthAdjust="spacingAndGlyphs">WT-CELA2A</text>
<text transform="translate(554 331.0) rotate(-47.5)" font-size="11" font-weight="bold" text-anchor="start" fill="#000" textLength="85.6" lengthAdjust="spacingAndGlyphs">p.D121N-CELA2A</text>
<text transform="translate(599 330.5) rotate(-47.5)" font-size="11" font-weight="bold" text-anchor="start" fill="#000" textLength="80.5" lengthAdjust="spacingAndGlyphs">p.T70M-CELA2A</text>
<text transform="translate(655.5 331.5) rotate(-47.5)" font-size="11" font-weight="bold" text-anchor="start" fill="#000" textLength="103.5" lengthAdjust="spacingAndGlyphs">c.639+1 G&gt;C-CELA2A</text>
<text transform="translate(702.8 330.5) rotate(-47.5)" font-size="11" font-weight="bold" text-anchor="start" fill="#000" textLength="79.5" lengthAdjust="spacingAndGlyphs">p.L85M-CELA2A</text>
<text x="422.5" y="335.6" font-size="11.2" font-weight="bold" text-anchor="end" fill="#000" textLength="19.5" lengthAdjust="spacingAndGlyphs">kDa</text>
<text x="422.5" y="368" font-size="11.2" font-weight="bold" text-anchor="end" fill="#000" >75</text>
<text x="422.5" y="406.5" font-size="11.2" font-weight="bold" text-anchor="end" fill="#000" >50</text>
<text x="422.5" y="433" font-size="11.2" font-weight="bold" text-anchor="end" fill="#000" >37</text>
<text x="422.5" y="472" font-size="11.2" font-weight="bold" text-anchor="end" fill="#000" >25</text>
<text x="422.5" y="487.5" font-size="11.2" font-weight="bold" text-anchor="end" fill="#000" >20</text>
<rect x="429.5" y="341" width="285" height="155.8" fill="#000"/>
<rect x="431" y="342.5" width="281" height="152.5" fill="#0a0505"/>
<text x="718.8" y="368" font-size="10.6" font-weight="bold" text-anchor="start" fill="#000" >CELA2A+A1AT</text>
<text x="718.8" y="399.7" font-size="10.6" font-weight="bold" text-anchor="start" fill="#000" >A1AT</text>
<text x="718.8" y="469" font-size="10.6" font-weight="bold" text-anchor="start" fill="#000" >CELA2A</text>
<g fill="#000">
<circle cx="561.5" cy="170.8" r="3"/>
<circle cx="568.2" cy="170.8" r="3"/>
<circle cx="575" cy="170.8" r="3"/>
<rect x="591" y="69" width="4.6" height="5"/>
<rect x="602" y="69" width="4.6" height="5"/>
<rect x="596.8" y="78.6" width="4.6" height="5"/>
<polygon points="623.00,168.60 623.85,170.64 626.04,170.81 624.37,172.24 624.88,174.39 623.00,173.24 621.12,174.39 621.63,172.24 619.96,170.81 622.15,170.64"/>
<polygon points="630.50,168.60 631.35,170.64 633.54,170.81 631.87,172.24 632.38,174.39 630.50,173.24 628.62,174.39 629.13,172.24 627.46,170.81 629.65,170.64"/>
<polygon points="637.00,168.60 637.85,170.64 640.04,170.81 638.37,172.24 638.88,174.39 637.00,173.24 635.12,174.39 635.63,172.24 633.96,170.81 636.15,170.64"/>
<polygon points="651.6999999999999,167.6 656.9,167.6 654.3,171.8"/>
<polygon points="659.1,167.6 664.3000000000001,167.6 661.7,171.8"/>
<polygon points="665.9,167.6 671.1,167.6 668.5,171.8"/>
<polygon points="685,167.3 688.2,170.5 685,173.7 681.8,170.5"/>
<polygon points="692.5,167.3 695.7,170.5 692.5,173.7 689.3,170.5"/>
<polygon points="700,167.3 703.2,170.5 700,173.7 696.8,170.5"/>
</g>
<g fill="none" stroke="#8a8a8a" stroke-width="1">
<circle cx="716.5" cy="170.8" r="3"/>
<circle cx="723.2" cy="170.8" r="3"/>
<circle cx="730.7" cy="170.8" r="3"/>
</g>
<g stroke="#000" stroke-width="1.4" fill="none">
<path d="M588 74.6 H610 M599 71 V78.2 M597 71 H602 M594.5 78.2 H604"/>
<path d="M557 171 H579 M619 171.2 H641 M651 168 H671.5 M682 170.5 H703"/>
</g>
<path d="M713.5 170.8 H734.5" stroke="#555" stroke-width="1.2"/>
<g fill="#000">
<ellipse cx="91.7" cy="302.4" rx="3.6" ry="3.1"/>
<ellipse cx="97.3" cy="313.8" rx="3.6" ry="3.1"/>
<ellipse cx="87" cy="319.7" rx="3.6" ry="3.1"/>
<ellipse cx="92.2" cy="331.3" rx="3.6" ry="3.1"/>
<ellipse cx="81.9" cy="360.2" rx="3.6" ry="3.1"/>
<ellipse cx="92.2" cy="360.2" rx="3.6" ry="3.1"/>
<ellipse cx="102" cy="362.4" rx="3.6" ry="3.1"/>
<ellipse cx="137.5" cy="365.9" rx="3.6" ry="3.1"/>
<ellipse cx="130.1" cy="392" rx="3.6" ry="3.1"/>
<ellipse cx="145.2" cy="394.4" rx="3.6" ry="3.1"/>
<ellipse cx="130.1" cy="406.7" rx="3.6" ry="3.1"/>
<ellipse cx="145.2" cy="414" rx="3.6" ry="3.1"/>
<ellipse cx="183.3" cy="395.6" rx="3.6" ry="3.1"/>
<ellipse cx="183.3" cy="406.3" rx="3.6" ry="3.1"/>
<ellipse cx="183.3" cy="416.5" rx="3.6" ry="3.1"/>
<ellipse cx="228.6" cy="383" rx="3.6" ry="3.1"/>
<ellipse cx="218.5" cy="389.3" rx="3.6" ry="3.1"/>
<ellipse cx="228.6" cy="392.3" rx="3.6" ry="3.1"/>
<ellipse cx="238.7" cy="394.8" rx="3.6" ry="3.1"/>
<ellipse cx="228.6" cy="412.6" rx="3.6" ry="3.1"/>
<ellipse cx="274.2" cy="354.7" rx="3.6" ry="3.1"/>
<ellipse cx="264.1" cy="418.1" rx="3.6" ry="3.1"/>
<ellipse cx="274.2" cy="418.1" rx="3.6" ry="3.1"/>
<ellipse cx="284.3" cy="418.1" rx="3.6" ry="3.1"/>
</g>
<g stroke="#222" stroke-width="1.5" fill="none">
<path d="M76.7 336 H106.8 M92 326.2 V345.2 M83.8 326.2 H99.7 M83.8 345.2 H99.7"/>
<path d="M122 394.8 H152.8 M137.5 386.5 V403 M129.6 386.5 H145.5 M129.6 403 H145.5"/>
<path d="M168.2 405.9 H198.3 M183.3 400 V412.2 M175.3 400 H191.2 M175.3 412.2 H191.2"/>
<path d="M213.4 394.3 H243.8 M228.6 389.4 V399 M221 389.4 H237 M221 399 H237"/>
<path d="M259 407.8 H289.4 M274.2 394.3 V418 M266.6 394.3 H282.6 M266.6 418 H282.6"/>
</g>
<g stroke="#000" stroke-width="2">
<path d="M91.2 269.3 H275"/>
<path d="M91.2 277.6 H221.6"/>
<path d="M91.2 287.1 H174.3"/>
<path d="M91.2 294.8 H141"/>
</g>
<text x="114.8" y="269" font-size="10.5" font-weight="bold" text-anchor="middle" fill="#000" >****</text>
<text x="114.8" y="279.2" font-size="10.5" font-weight="bold" text-anchor="middle" fill="#000" >****</text>
<text x="114.8" y="287.5" font-size="10.5" font-weight="bold" text-anchor="middle" fill="#000" >****</text>
<text x="114.8" y="296" font-size="10.5" font-weight="bold" text-anchor="middle" fill="#000" >****</text>
<g filter="url(#b3)" opacity="0.45">
<rect x="437" y="385" width="35.5" height="13" rx="3" fill="#1ee01e"/>
<rect x="482.5" y="388" width="37.5" height="8.5" rx="3" fill="#1ee01e"/>
<rect x="529.7" y="387.2" width="36.5" height="8" rx="3" fill="#1ee01e"/>
<rect x="579.3" y="386.5" width="35" height="8.5" rx="3" fill="#1ee01e"/>
<rect x="625.4" y="387.5" width="36.5" height="11.5" rx="3" fill="#1ee01e"/>
<rect x="673.5" y="392" width="33" height="8" rx="3" fill="#1ee01e"/>
<rect x="477.5" y="458" width="41" height="13.5" rx="3" fill="#ff1414"/>
<rect x="526.5" y="458" width="39.7" height="13.5" rx="3" fill="#ff1414"/>
<rect x="578" y="459.5" width="36.3" height="10.5" rx="3" fill="#ff1414"/>
<rect x="673.5" y="462.5" width="34.5" height="11.5" rx="3" fill="#ff1414"/>
<rect x="442" y="374" width="26" height="12" fill="#1a8a1a" opacity="0.5"/>
</g>
<g filter="url(#b2)">
<rect x="479" y="446" width="38" height="11" fill="#3a0808" opacity="0.8"/>
<rect x="528" y="446" width="37" height="11" fill="#3a0808" opacity="0.8"/>
<rect x="579.5" y="446" width="33.5" height="11" fill="#3a0808" opacity="0.8"/>
<rect x="675" y="446" width="31.5" height="11" fill="#3a0808" opacity="0.8"/>
</g>
<g filter="url(#b1)">
<rect x="437" y="385" width="35.5" height="13" rx="3" fill="#1ee01e"/>
<rect x="482.5" y="388" width="37.5" height="8.5" rx="3" fill="#1ee01e"/>
<rect x="529.7" y="387.2" width="36.5" height="8" rx="3" fill="#1ee01e"/>
<rect x="579.3" y="386.5" width="35" height="8.5" rx="3" fill="#1ee01e"/>
<rect x="625.4" y="387.5" width="36.5" height="11.5" rx="3" fill="#1ee01e"/>
<rect x="673.5" y="392" width="33" height="8" rx="3" fill="#1ee01e"/>
<rect x="477.5" y="458" width="41" height="13.5" rx="3" fill="#ff1414"/>
<rect x="526.5" y="458" width="39.7" height="13.5" rx="3" fill="#ff1414"/>
<rect x="578" y="459.5" width="36.3" height="10.5" rx="3" fill="#ff1414"/>
<rect x="673.5" y="462.5" width="34.5" height="11.5" rx="3" fill="#ff1414"/>
<rect x="485.2" y="363.2" width="35" height="5" rx="2" fill="#d8d810"/>
<rect x="485.2" y="367.6" width="35" height="2.4" rx="1" fill="#c02010"/>
<rect x="674.6" y="364" width="31.8" height="3.6" rx="2" fill="#ff3010"/>
<rect x="674.6" y="367.4" width="31.8" height="3.2" rx="1.5" fill="#e0a010"/>
</g>
<circle cx="547.1" cy="356.2" r="0.32" fill="#30c030" opacity="0.44"/>
<circle cx="701.0" cy="366.7" r="0.56" fill="#30c030" opacity="0.41"/>
<circle cx="507.3" cy="360.1" r="0.59" fill="#30c030" opacity="0.72"/>
<circle cx="674.7" cy="369.5" r="0.57" fill="#30c030" opacity="0.54"/>
<circle cx="595.2" cy="377.4" r="0.55" fill="#30c030" opacity="0.73"/>
<circle cx="702.3" cy="349.6" r="0.46" fill="#30c030" opacity="0.64"/>
<circle cx="693.7" cy="420.5" r="0.53" fill="#30c030" opacity="0.53"/>
<circle cx="585.3" cy="348.2" r="0.37" fill="#30c030" opacity="0.76"/>
<circle cx="611.5" cy="353.1" r="0.49" fill="#30c030" opacity="0.65"/>
<circle cx="463.2" cy="365.0" r="0.42" fill="#30c030" opacity="0.41"/>
<circle cx="599.1" cy="360.6" r="0.59" fill="#30c030" opacity="0.62"/>
<circle cx="677.7" cy="352.9" r="0.59" fill="#30c030" opacity="0.65"/>
<circle cx="517.5" cy="368.3" r="0.43" fill="#30c030" opacity="0.43"/>
<circle cx="617.5" cy="345.2" r="0.40" fill="#30c030" opacity="0.51"/>
<circle cx="621.8" cy="365.0" r="0.52" fill="#30c030" opacity="0.55"/>
<circle cx="489.1" cy="373.5" r="0.37" fill="#30c030" opacity="0.41"/>
<circle cx="643.4" cy="375.3" r="0.45" fill="#30c030" opacity="0.39"/>
<circle cx="494.1" cy="388.2" r="0.58" fill="#30c030" opacity="0.37"/>
<circle cx="541.4" cy="366.6" r="0.34" fill="#30c030" opacity="0.33"/>
<circle cx="448.7" cy="385.7" r="0.57" fill="#30c030" opacity="0.67"/>
<circle cx="709.3" cy="350.7" r="0.58" fill="#30c030" opacity="0.67"/>
<circle cx="440.9" cy="357.5" r="0.40" fill="#30c030" opacity="0.38"/>
<circle cx="432.8" cy="378.4" r="0.34" fill="#30c030" opacity="0.78"/>
<circle cx="489.7" cy="381.8" r="0.55" fill="#30c030" opacity="0.52"/>
<circle cx="445.7" cy="377.1" r="0.36" fill="#30c030" opacity="0.48"/>
<circle cx="681.4" cy="373.2" r="0.53" fill="#30c030" opacity="0.32"/>
<circle cx="441.7" cy="350.6" r="0.38" fill="#30c030" opacity="0.67"/>
<circle cx="681.8" cy="378.5" r="0.49" fill="#30c030" opacity="0.43"/>
<circle cx="631.2" cy="344.1" r="0.53" fill="#30c030" opacity="0.76"/>
<circle cx="608.2" cy="352.4" r="0.44" fill="#30c030" opacity="0.78"/>
<circle cx="697.2" cy="359.5" r="0.45" fill="#30c030" opacity="0.76"/>
<circle cx="482.9" cy="429.1" r="0.55" fill="#30c030" opacity="0.69"/>
<circle cx="600.8" cy="357.0" r="0.53" fill="#30c030" opacity="0.34"/>
<circle cx="486.9" cy="346.3" r="0.31" fill="#30c030" opacity="0.58"/>
<circle cx="522.6" cy="447.9" r="0.60" fill="#30c030" opacity="0.43"/>
<circle cx="455.4" cy="369.6" r="0.43" fill="#30c030" opacity="0.42"/>
<circle cx="547.9" cy="409.8" r="0.52" fill="#30c030" opacity="0.72"/>
<circle cx="616.7" cy="356.8" r="0.39" fill="#30c030" opacity="0.58"/>
<circle cx="535.7" cy="352.9" r="0.37" fill="#30c030" opacity="0.38"/>
<circle cx="677.8" cy="358.3" r="0.60" fill="#30c030" opacity="0.55"/>
<circle cx="496.3" cy="429.7" r="0.60" fill="#30c030" opacity="0.35"/>
<circle cx="564.0" cy="430.8" r="0.57" fill="#30c030" opacity="0.32"/>
<circle cx="513.6" cy="379.0" r="0.47" fill="#30c030" opacity="0.77"/>
<circle cx="535.5" cy="353.4" r="0.53" fill="#30c030" opacity="0.77"/>
<circle cx="461.4" cy="407.2" r="0.37" fill="#30c030" opacity="0.48"/>
<circle cx="471.3" cy="365.6" r="0.50" fill="#30c030" opacity="0.40"/>
<circle cx="435.2" cy="378.7" r="0.36" fill="#30c030" opacity="0.46"/>
<circle cx="488.5" cy="346.3" r="0.33" fill="#30c030" opacity="0.50"/>
<circle cx="584.9" cy="349.9" r="0.51" fill="#30c030" opacity="0.50"/>
<circle cx="510.8" cy="376.6" r="0.39" fill="#30c030" opacity="0.58"/>
<circle cx="531.3" cy="388.1" r="0.60" fill="#30c030" opacity="0.48"/>
<circle cx="486.8" cy="344.2" r="0.57" fill="#30c030" opacity="0.51"/>
<circle cx="660.1" cy="387.1" r="0.44" fill="#30c030" opacity="0.38"/>
<circle cx="436.1" cy="402.5" r="0.57" fill="#30c030" opacity="0.34"/>
<circle cx="605.0" cy="349.3" r="0.38" fill="#30c030" opacity="0.56"/>
<circle cx="689.3" cy="373.0" r="0.59" fill="#30c030" opacity="0.40"/>
<circle cx="467.2" cy="444.0" r="0.44" fill="#30c030" opacity="0.33"/>
<circle cx="689.5" cy="385.1" r="0.49" fill="#30c030" opacity="0.71"/>
<circle cx="476.6" cy="358.6" r="0.55" fill="#30c030" opacity="0.71"/>
<circle cx="482.9" cy="362.6" r="0.42" fill="#30c030" opacity="0.36"/>
<circle cx="500.7" cy="420.8" r="0.31" fill="#30c030" opacity="0.58"/>
<circle cx="642.6" cy="348.0" r="0.34" fill="#30c030" opacity="0.60"/>
<circle cx="584.9" cy="359.1" r="0.47" fill="#30c030" opacity="0.51"/>
<circle cx="615.2" cy="344.8" r="0.49" fill="#30c030" opacity="0.54"/>
<circle cx="497.4" cy="424.9" r="0.44" fill="#30c030" opacity="0.39"/>
<circle cx="563.6" cy="359.5" r="0.33" fill="#30c030" opacity="0.52"/>
<circle cx="573.8" cy="348.3" r="0.32" fill="#30c030" opacity="0.67"/>
<circle cx="648.2" cy="362.1" r="0.41" fill="#30c030" opacity="0.78"/>
<circle cx="469.9" cy="434.8" r="0.52" fill="#30c030" opacity="0.71"/>
<circle cx="485.9" cy="378.4" r="0.57" fill="#30c030" opacity="0.38"/>
<circle cx="651.2" cy="356.6" r="0.53" fill="#30c030" opacity="0.38"/>
<circle cx="681.2" cy="373.1" r="0.34" fill="#30c030" opacity="0.55"/>
<circle cx="687.7" cy="362.2" r="0.40" fill="#30c030" opacity="0.32"/>
<circle cx="482.6" cy="361.1" r="0.50" fill="#30c030" opacity="0.75"/>
<circle cx="478.9" cy="363.1" r="0.49" fill="#30c030" opacity="0.48"/>
<circle cx="674.7" cy="375.8" r="0.33" fill="#30c030" opacity="0.80"/>
<circle cx="607.1" cy="385.8" r="0.38" fill="#30c030" opacity="0.80"/>
<circle cx="592.5" cy="382.2" r="0.43" fill="#30c030" opacity="0.39"/>
<circle cx="638.7" cy="349.1" r="0.38" fill="#30c030" opacity="0.62"/>
<circle cx="705.6" cy="406.1" r="0.39" fill="#30c030" opacity="0.30"/>
<circle cx="441.4" cy="359.8" r="0.43" fill="#30c030" opacity="0.56"/>
<circle cx="681.0" cy="367.5" r="0.31" fill="#30c030" opacity="0.30"/>
<circle cx="530.7" cy="352.1" r="0.48" fill="#30c030" opacity="0.59"/>
<circle cx="488.8" cy="348.9" r="0.58" fill="#30c030" opacity="0.42"/>
<circle cx="473.5" cy="354.2" r="0.56" fill="#30c030" opacity="0.69"/>
<circle cx="543.7" cy="367.2" r="0.47" fill="#30c030" opacity="0.48"/>
<circle cx="611.5" cy="391.0" r="0.52" fill="#30c030" opacity="0.42"/>
<circle cx="683.2" cy="358.6" r="0.37" fill="#30c030" opacity="0.33"/>
<circle cx="648.5" cy="377.9" r="0.34" fill="#30c030" opacity="0.40"/>
<circle cx="601.0" cy="397.7" r="0.54" fill="#30c030" opacity="0.39"/>
<circle cx="560.2" cy="351.7" r="0.31" fill="#38c838" opacity="0.74"/>
<circle cx="621.8" cy="363.7" r="0.30" fill="#38c838" opacity="0.72"/>
<circle cx="616.9" cy="356.5" r="0.52" fill="#38c838" opacity="0.53"/>
<circle cx="549.4" cy="346.1" r="0.37" fill="#38c838" opacity="0.32"/>
<circle cx="563.6" cy="364.7" r="0.51" fill="#38c838" opacity="0.72"/>
<circle cx="612.5" cy="350.7" r="0.47" fill="#38c838" opacity="0.52"/>
<circle cx="622.5" cy="358.2" r="0.38" fill="#38c838" opacity="0.62"/>
<circle cx="645.5" cy="349.3" r="0.56" fill="#38c838" opacity="0.31"/>
<circle cx="553.8" cy="349.8" r="0.52" fill="#38c838" opacity="0.77"/>
<circle cx="617.0" cy="352.5" r="0.56" fill="#38c838" opacity="0.46"/>
<circle cx="551.1" cy="369.3" r="0.49" fill="#38c838" opacity="0.65"/>
<circle cx="606.5" cy="371.4" r="0.44" fill="#38c838" opacity="0.72"/>
<circle cx="610.7" cy="367.9" r="0.43" fill="#38c838" opacity="0.66"/>
<circle cx="594.1" cy="351.9" r="0.36" fill="#38c838" opacity="0.61"/>
<circle cx="530.1" cy="369.4" r="0.34" fill="#38c838" opacity="0.31"/>
<circle cx="533.9" cy="369.9" r="0.40" fill="#38c838" opacity="0.37"/>
<circle cx="523.7" cy="344.2" r="0.51" fill="#38c838" opacity="0.62"/>
<circle cx="610.6" cy="364.4" r="0.32" fill="#38c838" opacity="0.60"/>
<circle cx="567.2" cy="366.7" r="0.55" fill="#38c838" opacity="0.75"/>
<circle cx="528.6" cy="368.2" r="0.57" fill="#38c838" opacity="0.77"/>
<circle cx="533.9" cy="349.0" r="0.33" fill="#38c838" opacity="0.32"/>
<circle cx="630.2" cy="366.5" r="0.49" fill="#38c838" opacity="0.71"/>
<circle cx="602.1" cy="351.3" r="0.33" fill="#38c838" opacity="0.35"/>
<circle cx="618.5" cy="348.9" r="0.40" fill="#38c838" opacity="0.51"/>
<circle cx="522.7" cy="350.4" r="0.38" fill="#38c838" opacity="0.66"/>
<circle cx="567.8" cy="352.3" r="0.59" fill="#38c838" opacity="0.55"/>
<circle cx="630.7" cy="360.9" r="0.31" fill="#38c838" opacity="0.51"/>
<circle cx="576.7" cy="365.4" r="0.40" fill="#38c838" opacity="0.65"/>
<circle cx="589.9" cy="349.3" r="0.56" fill="#38c838" opacity="0.35"/>
<circle cx="626.6" cy="347.9" r="0.30" fill="#38c838" opacity="0.40"/>
<circle cx="619.1" cy="371.4" r="0.30" fill="#38c838" opacity="0.55"/>
<circle cx="583.9" cy="366.1" r="0.36" fill="#38c838" opacity="0.55"/>
<circle cx="565.1" cy="367.1" r="0.38" fill="#38c838" opacity="0.77"/>
<circle cx="556.9" cy="349.2" r="0.51" fill="#38c838" opacity="0.55"/>
<circle cx="534.3" cy="361.5" r="0.32" fill="#38c838" opacity="0.69"/>
<circle cx="610.6" cy="365.8" r="0.49" fill="#38c838" opacity="0.48"/>
<circle cx="572.2" cy="354.4" r="0.57" fill="#38c838" opacity="0.34"/>
<circle cx="635.5" cy="343.7" r="0.36" fill="#38c838" opacity="0.43"/>
<circle cx="637.2" cy="357.5" r="0.41" fill="#38c838" opacity="0.74"/>
<circle cx="550.4" cy="356.4" r="0.46" fill="#38c838" opacity="0.68"/>
<circle cx="617.9" cy="361.7" r="0.40" fill="#38c838" opacity="0.46"/>
<circle cx="540.2" cy="367.5" r="0.50" fill="#38c838" opacity="0.67"/>
<circle cx="542.0" cy="355.7" r="0.53" fill="#38c838" opacity="0.59"/>
<circle cx="536.4" cy="356.4" r="0.57" fill="#38c838" opacity="0.42"/>
<circle cx="544.9" cy="351.7" r="0.51" fill="#38c838" opacity="0.72"/>
<circle cx="540.1" cy="347.5" r="0.37" fill="#38c838" opacity="0.46"/>
<circle cx="587.9" cy="347.7" r="0.40" fill="#38c838" opacity="0.39"/>
<circle cx="646.8" cy="364.1" r="0.33" fill="#38c838" opacity="0.78"/>
<circle cx="533.2" cy="354.1" r="0.60" fill="#38c838" opacity="0.70"/>
<circle cx="615.3" cy="355.6" r="0.36" fill="#38c838" opacity="0.62"/>
<circle cx="533.9" cy="349.0" r="0.42" fill="#38c838" opacity="0.32"/>
<circle cx="571.9" cy="365.9" r="0.51" fill="#38c838" opacity="0.55"/>
<circle cx="602.2" cy="356.4" r="0.34" fill="#38c838" opacity="0.60"/>
<circle cx="572.6" cy="364.5" r="0.57" fill="#38c838" opacity="0.52"/>
<circle cx="594.6" cy="364.7" r="0.43" fill="#38c838" opacity="0.41"/>
<circle cx="613.9" cy="368.5" r="0.53" fill="#38c838" opacity="0.65"/>
<circle cx="630.8" cy="362.7" r="0.49" fill="#38c838" opacity="0.53"/>
<circle cx="560.7" cy="361.2" r="0.33" fill="#38c838" opacity="0.51"/>
<circle cx="621.7" cy="363.7" r="0.49" fill="#38c838" opacity="0.43"/>
<circle cx="575.1" cy="356.2" r="0.49" fill="#38c838" opacity="0.50"/>
<circle cx="524.0" cy="431.9" r="0.46" fill="#30b030" opacity="0.61"/>
<circle cx="503.2" cy="422.3" r="0.31" fill="#30b030" opacity="0.52"/>
<circle cx="491.9" cy="410.7" r="0.43" fill="#30b030" opacity="0.34"/>
<circle cx="514.8" cy="430.0" r="0.43" fill="#30b030" opacity="0.56"/>
<circle cx="529.9" cy="440.9" r="0.54" fill="#30b030" opacity="0.38"/>
<circle cx="520.2" cy="435.8" r="0.33" fill="#30b030" opacity="0.69"/>
<circle cx="497.8" cy="416.4" r="0.40" fill="#30b030" opacity="0.31"/>
<circle cx="504.5" cy="422.1" r="0.39" fill="#30b030" opacity="0.41"/>
<circle cx="495.4" cy="413.9" r="0.43" fill="#30b030" opacity="0.39"/>
<circle cx="527.2" cy="438.3" r="0.33" fill="#30b030" opacity="0.61"/>
<circle cx="529.6" cy="440.3" r="0.44" fill="#30b030" opacity="0.39"/>
<circle cx="536.7" cy="449.0" r="0.50" fill="#30b030" opacity="0.63"/>
<circle cx="506.4" cy="423.7" r="0.33" fill="#30b030" opacity="0.63"/>
<circle cx="504.1" cy="416.3" r="0.39" fill="#30b030" opacity="0.40"/>
<circle cx="503.1" cy="418.3" r="0.48" fill="#30b030" opacity="0.41"/>
<circle cx="493.1" cy="412.1" r="0.41" fill="#30b030" opacity="0.55"/>
<circle cx="518.5" cy="435.5" r="0.51" fill="#30b030" opacity="0.32"/>
<circle cx="532.9" cy="443.1" r="0.34" fill="#30b030" opacity="0.63"/>
<circle cx="514.1" cy="428.7" r="0.54" fill="#30b030" opacity="0.56"/>
<circle cx="491.8" cy="410.4" r="0.36" fill="#30b030" opacity="0.61"/>
<circle cx="498.0" cy="419.7" r="0.50" fill="#30b030" opacity="0.37"/>
<circle cx="534.3" cy="446.2" r="0.47" fill="#30b030" opacity="0.66"/>
<circle cx="530.0" cy="437.6" r="0.47" fill="#30b030" opacity="0.51"/>
<circle cx="524.0" cy="439.4" r="0.44" fill="#30b030" opacity="0.41"/>
<circle cx="491.2" cy="411.7" r="0.31" fill="#30b030" opacity="0.49"/>
<circle cx="445.5" cy="432.8" r="0.8" fill="#ff6060"/>
<text x="406.9" y="62.5" font-size="8.5" font-weight="bold" fill="#fff">D<tspan font-size="4.7" dy="0">121</tspan></text>
<text x="405.6" y="79.7" font-size="8.5" font-weight="bold" fill="#fff">H<tspan font-size="4.7" dy="0">73</tspan></text>
<text x="402.5" y="121.9" font-size="8.5" font-weight="bold" fill="#fff">S<tspan font-size="4.7" dy="0">216</tspan></text>
<text x="397.2" y="172" font-size="8.5" font-weight="bold" fill="#fff">N<tspan font-size="4.7" dy="0">121</tspan></text>
<text x="410.5" y="203.7" font-size="8.5" font-weight="bold" fill="#fff">H<tspan font-size="4.7" dy="0">73</tspan></text>
<text x="427.5" y="248.5" font-size="8.5" font-weight="bold" fill="#fff">S<tspan font-size="4.7" dy="0">216</tspan></text>
</svg></body></html>
